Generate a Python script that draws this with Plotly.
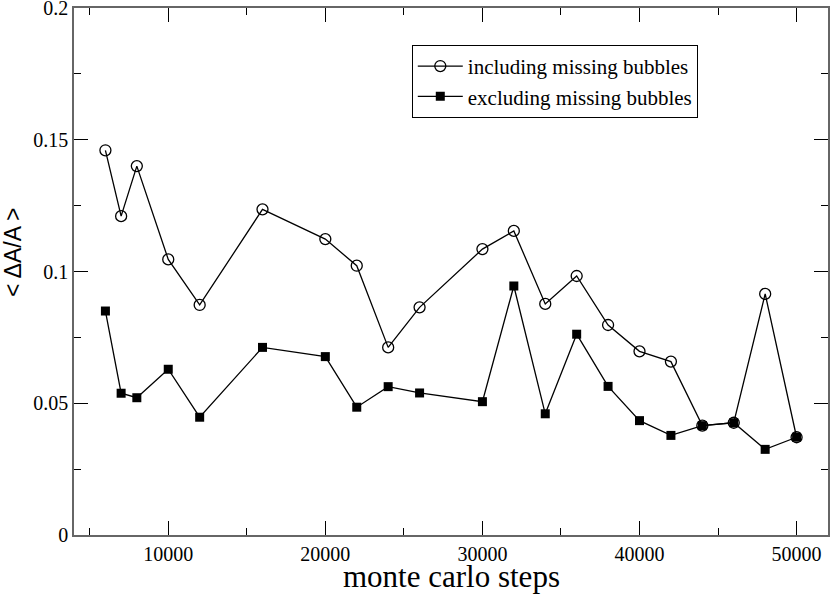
import plotly.graph_objects as go

# monte carlo steps
steps = [6000, 7000, 8000, 10000, 12000, 16000, 20000, 22000, 24000, 26000,
         30000, 32000, 34000, 36000, 38000, 40000, 42000, 44000, 46000, 48000, 50000]

# <dA/A> including missing bubbles
incl = [0.146, 0.121, 0.140, 0.1046, 0.0873, 0.1236, 0.1123, 0.1022, 0.0712, 0.0864,
        0.1085, 0.1154, 0.0877, 0.0983, 0.0797, 0.0697, 0.0658, 0.0415, 0.0426, 0.0915, 0.0371]

# <dA/A> excluding missing bubbles
excl = [0.085, 0.0538, 0.0521, 0.0629, 0.0447, 0.0712, 0.0677, 0.0485, 0.0563, 0.0539,
        0.0506, 0.0945, 0.046, 0.0762, 0.0564, 0.0434, 0.0378, 0.0415, 0.0426, 0.0325, 0.0371]

y_ticks = [0, 0.05, 0.1, 0.15, 0.2]
y_labels = ["0", "0.05", "0.1", "0.15", "0.2"]
x_ticks = [10000, 20000, 30000, 40000, 50000]

fig = go.Figure()
fig.add_trace(go.Scatter(x=steps, y=excl, mode="lines+markers",
                         name="excluding missing bubbles",
                         line=dict(color="black", width=1.3),
                         marker=dict(symbol="square", size=9, color="black")))
fig.add_trace(go.Scatter(x=steps, y=incl, mode="lines+markers",
                         name="including missing bubbles",
                         line=dict(color="black", width=1.3),
                         marker=dict(symbol="circle-open", size=11, color="black",
                                     line=dict(width=1.3))))

serif = "Liberation Serif, Times New Roman, serif"
tickfont = dict(family=serif, size=20, color="black")
fig.update_layout(
    width=830, height=595,
    margin=dict(l=74, r=2, t=8, b=60),
    paper_bgcolor="white", plot_bgcolor="white",
    font=dict(family=serif, size=20, color="black"),
    legend=dict(x=0.448, y=0.93, xanchor="left", yanchor="top",
                traceorder="reversed", bgcolor="white", itemwidth=45,
                bordercolor="black", borderwidth=1,
                font=dict(family=serif, size=21)),
    xaxis=dict(range=[4000, 52000], tickvals=x_ticks, tickformat="d",
               tickfont=tickfont,
               showgrid=False, zeroline=False, automargin=False,
               ticklabeloverflow="allow",
               showline=True, linecolor="#666", linewidth=1.5, mirror="ticks",
               ticks="inside", ticklen=14, tickcolor="black", tickwidth=1,
               minor=dict(tickvals=[5000, 15000, 25000, 35000, 45000],
                          ticks="inside", ticklen=7, tickcolor="black")),
    yaxis=dict(range=[0, 0.2], tickvals=y_ticks, ticktext=y_labels,
               tickfont=tickfont,
               showgrid=False, zeroline=False, automargin=False,
               ticklabeloverflow="allow",
               showline=True, linecolor="#666", linewidth=1.5, mirror="ticks",
               ticks="inside", ticklen=14, tickcolor="black", tickwidth=1,
               minor=dict(tickvals=[0.025, 0.075, 0.125, 0.175],
                          ticks="inside", ticklen=7, tickcolor="black")),
)

fig.add_annotation(text="monte carlo steps", xref="paper", yref="paper",
                   x=0.5, y=0, yshift=-61, xanchor="center", yanchor="bottom",
                   showarrow=False, font=dict(family=serif, size=31))
fig.add_annotation(text="< ΔA/A >", xref="paper", yref="paper",
                   x=0, xshift=-61, y=0.537, xanchor="center", yanchor="middle",
                   textangle=-90, showarrow=False,
                   font=dict(family="Liberation Sans", size=23))

# no page margin around the figure, no modebar
fig.write_html("out.html", config={"displayModeBar": False},
               post_script="document.body.style.margin='0';")
